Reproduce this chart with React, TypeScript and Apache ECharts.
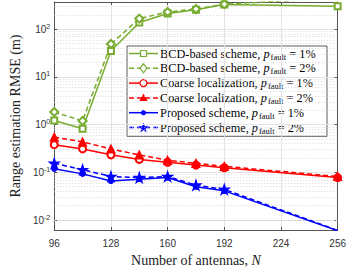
import React, { useEffect, useRef } from "react";
import * as echarts from "echarts";

const antennas = [96, 112, 128, 144, 160, 176, 192, 256];
const xTicks = [96, 128, 160, 192, 224, 256];
const bcd1 = [1.22, 0.82, 35, 138, 213, 255, 330, 303];
const bcd2 = [1.84, 1.2, 49, 167, 230, 265, 335, 450];
const coarse1 = [0.38, 0.31, 0.233, 0.187, 0.163, 0.142, 0.125, 0.078];
const coarse2 = [0.55, 0.435, 0.31, 0.232, 0.18, 0.155, 0.134, 0.082];
const prop1 = [0.119, 0.093, 0.066, 0.072, 0.078, 0.05, 0.041, 0.006];
const prop2 = [0.155, 0.114, 0.082, 0.078, 0.082, 0.054, 0.044, 0.0061];
const schemeNames = [
  "BCD-based scheme",
  "BCD-based scheme",
  "Coarse localization",
  "Coarse localization",
  "Proposed scheme",
  "Proposed scheme",
];
const faultPct = ["1%", "2%", "1%", "2%", "1%", "2%"];
const yLabel = "Range estimation RMSE (m)";
const xLabel = "Number of antennas, ";

const GREEN = "#77AC30";
const RED = "#FF0000";
const BLUE = "#0000FF";
const STAR =
  "path://M0,-1 L0.2245,-0.309 L0.951,-0.309 L0.363,0.118 L0.588,0.809 L0,0.382 L-0.588,0.809 L-0.363,0.118 L-0.951,-0.309 L-0.2245,-0.309 Z";

const Y_MIN = 0.0062;
const Y_MAX = 372;

function minorValues() {
  const out: number[] = [];
  for (let e = -3; e <= 2; e++) {
    for (let m = 2; m <= 9; m++) {
      const v = m * Math.pow(10, e);
      if (v > Y_MIN && v < Y_MAX) out.push(v);
    }
  }
  return out;
}

function starPoints(cx: number, cy: number, r: number) {
  const pts: number[][] = [];
  for (let k = 0; k < 10; k++) {
    const rr = k % 2 === 0 ? r : r * 0.382;
    const a = -Math.PI / 2 + (k * Math.PI) / 5;
    pts.push([cx + rr * Math.cos(a), cy + rr * Math.sin(a)]);
  }
  return pts;
}

export default function App() {
  const ref = useRef<HTMLDivElement>(null);
  useEffect(() => {
    if (!ref.current) return;
    const chart = echarts.init(ref.current, undefined, { renderer: "svg" });
    const serif = "Liberation Serif";
    const sans = "Liberation Sans";
    const seriesDefs = [
      { data: bcd1, color: GREEN, dash: "solid", symbol: "emptyRect", size: 6, mk: "square" },
      { data: bcd2, color: GREEN, dash: [5, 3], symbol: "emptyDiamond", size: 8, mk: "diamond" },
      { data: coarse1, color: RED, dash: "solid", symbol: "emptyCircle", size: 7, mk: "circle" },
      { data: coarse2, color: RED, dash: [5, 3], symbol: "triangle", size: 8, mk: "triangle" },
      { data: prop1, color: BLUE, dash: "solid", symbol: "circle", size: 5, mk: "dot" },
      { data: prop2, color: BLUE, dash: [5, 3], symbol: STAR, size: 10, mk: "star" },
    ];
    const names = schemeNames.map((s, i) => `${s}, p_fault = ${faultPct[i]}`);
    const series: any[] = seriesDefs.map((d, i) => ({
      name: names[i],
      type: "line",
      data: antennas.map((x, j) => [x, d.data[j]]),
      symbol: d.symbol,
      symbolSize: d.size,
      showAllSymbol: true,
      clip: true,
      lineStyle: { color: d.color, width: 1.5, type: d.dash },
      itemStyle: { color: d.color, borderColor: d.color, borderWidth: 1.2 },
      emphasis: { disabled: true },
      z: 3,
    }));
    series[0].markLine = {
      silent: true,
      symbol: "none",
      label: { show: false },
      animation: false,
      lineStyle: { color: "#cfcfcf", width: 0.8, type: [1, 2] },
      data: minorValues().map((v) => ({ yAxis: v })),
      z: 1,
    };
    const isPow = (v: number) => {
      const e = Math.log10(v);
      return Math.abs(e - Math.round(e)) < 1e-6;
    };

    // custom legend (graphic); each text piece is its own text element
    const LX = 127, LY = 46, LW = 200, ROW = 14.8;
    const legendChildren: any[] = [
      {
        type: "rect",
        shape: { x: LX, y: LY, width: LW, height: ROW * 6 + 1.5 },
        style: { fill: "#fff", stroke: "#333", lineWidth: 0.8 },
      },
    ];
    const ctx = document.createElement("canvas").getContext("2d")!;
    const textW = (txt: string, size: number, style: string) => {
      ctx.font = `${style} ${size}px "${serif}"`;
      return ctx.measureText(txt).width;
    };
    seriesDefs.forEach((d, i) => {
      const cy = LY + 7.5 + ROW * i;
      const x0 = LX + 2, x1 = LX + 31, cx = (x0 + x1) / 2;
      legendChildren.push({
        type: "line",
        shape: { x1: x0, y1: cy, x2: x1, y2: cy },
        style: { stroke: d.color, lineWidth: 1.5, lineDash: d.dash === "solid" ? null : [5, 3] },
      });
      let mk: any;
      const stroke = { stroke: d.color, lineWidth: 1.2 };
      if (d.mk === "square") mk = { type: "rect", shape: { x: cx - 3, y: cy - 3, width: 6, height: 6 }, style: { fill: "#fff", ...stroke } };
      else if (d.mk === "diamond") mk = { type: "polygon", shape: { points: [[cx, cy - 4.5], [cx + 3.5, cy], [cx, cy + 4.5], [cx - 3.5, cy]] }, style: { fill: "#fff", ...stroke } };
      else if (d.mk === "circle") mk = { type: "circle", shape: { cx, cy, r: 3.5 }, style: { fill: "#fff", ...stroke } };
      else if (d.mk === "triangle") mk = { type: "polygon", shape: { points: [[cx, cy - 4.5], [cx + 4.2, cy + 3], [cx - 4.2, cy + 3]] }, style: { fill: d.color } };
      else if (d.mk === "dot") mk = { type: "circle", shape: { cx, cy, r: 2.6 }, style: { fill: d.color } };
      else mk = { type: "polygon", shape: { points: starPoints(cx, cy + 0.5, 5.5) }, style: { fill: d.color } };
      legendChildren.push(mk);
      const pieces = [
        { t: `${schemeNames[i]}, `, size: 12.3, st: "normal", dy: 0, gap: 0 },
        { t: "p", size: 12.3, st: "italic", dy: 0, gap: 1 },
        { t: "fault", size: 8.5, st: "normal", dy: 3, gap: 0 },
        { t: ` = ${faultPct[i]}`, size: 12.3, st: "normal", dy: 0, gap: 0 },
      ];
      let tx = LX + 33;
      pieces.forEach((p) => {
        legendChildren.push({
          type: "text",
          x: tx,
          y: cy + p.dy,
          style: {
            text: p.t,
            fontFamily: serif,
            fontSize: p.size,
            fontStyle: p.st,
            verticalAlign: "middle",
            align: "left",
            fill: "#000",
          },
        });
        tx += textW(p.t, p.size, p.st) + p.gap;
      });
    });

    chart.setOption({
      animation: false,
      backgroundColor: "#fff",
      grid: { left: 39, right: 8, top: 2, bottom: 36 },
      xAxis: [
        {
          type: "value",
          min: 96,
          max: 256,
          interval: 32,
          name: `${xLabel}{it|N}`,
          nameLocation: "middle",
          nameGap: 23,
          nameTextStyle: {
            fontFamily: serif,
            fontSize: 14,
            color: "#222",
            rich: {
              it: { fontFamily: serif, fontStyle: "italic", fontSize: 14, color: "#222" },
            },
          },
          axisLine: { show: true, lineStyle: { color: "#555", width: 1 } },
          axisTick: { show: true, inside: true, length: 3, lineStyle: { color: "#555" } },
          axisLabel: {
            fontFamily: sans,
            fontSize: 10,
            color: "#333",
            margin: 8,
            formatter: (v: number) => (xTicks.includes(v) ? String(v) : ""),
          },
          splitLine: { show: true, lineStyle: { color: "#e3e3e3", width: 1 } },
        },
        {
          type: "value",
          position: "top",
          min: 96,
          max: 256,
          interval: 32,
          axisLine: { show: true, lineStyle: { color: "#555", width: 1 } },
          axisTick: { show: true, inside: true, length: 3, lineStyle: { color: "#555" } },
          axisLabel: { show: false },
          splitLine: { show: false },
        },
      ],
      yAxis: [
        {
          type: "log",
          logBase: 10,
          min: Y_MIN,
          max: Y_MAX,
          name: yLabel,
          nameLocation: "middle",
          nameGap: 23,
          nameTextStyle: { fontFamily: serif, fontSize: 14, color: "#222" },
          axisLine: { show: true, lineStyle: { color: "#555", width: 1 } },
          axisTick: { show: true, inside: true, length: 3, lineStyle: { color: "#555" } },
          axisLabel: {
            fontFamily: sans,
            fontSize: 10,
            color: "#333",
            margin: 4,
            formatter: (v: number) =>
              isPow(v) ? `{b|10}{sup|${Math.round(Math.log10(v))}}` : "",
            rich: {
              b: { fontFamily: sans, fontSize: 10, color: "#333" },
              sup: { fontFamily: sans, fontSize: 7, color: "#333", padding: [0, 0, 6, 0] },
            },
          },
          splitLine: { show: true, lineStyle: { color: "#e3e3e3", width: 1 } },
        },
        {
          type: "log",
          logBase: 10,
          min: Y_MIN,
          max: Y_MAX,
          position: "right",
          axisLine: { show: true, lineStyle: { color: "#555", width: 1 } },
          axisTick: { show: true, inside: true, length: 3, lineStyle: { color: "#555" } },
          axisLabel: { show: false },
          splitLine: { show: false },
        },
      ],
      series,
      graphic: [{ type: "group", z: 100, children: legendChildren }],
    });
    return () => chart.dispose();
  }, []);
  return (
    <div
      ref={ref}
      style={{ position: "fixed", left: 0, top: 0, width: 349, height: 272 }}
    />
  );
}
